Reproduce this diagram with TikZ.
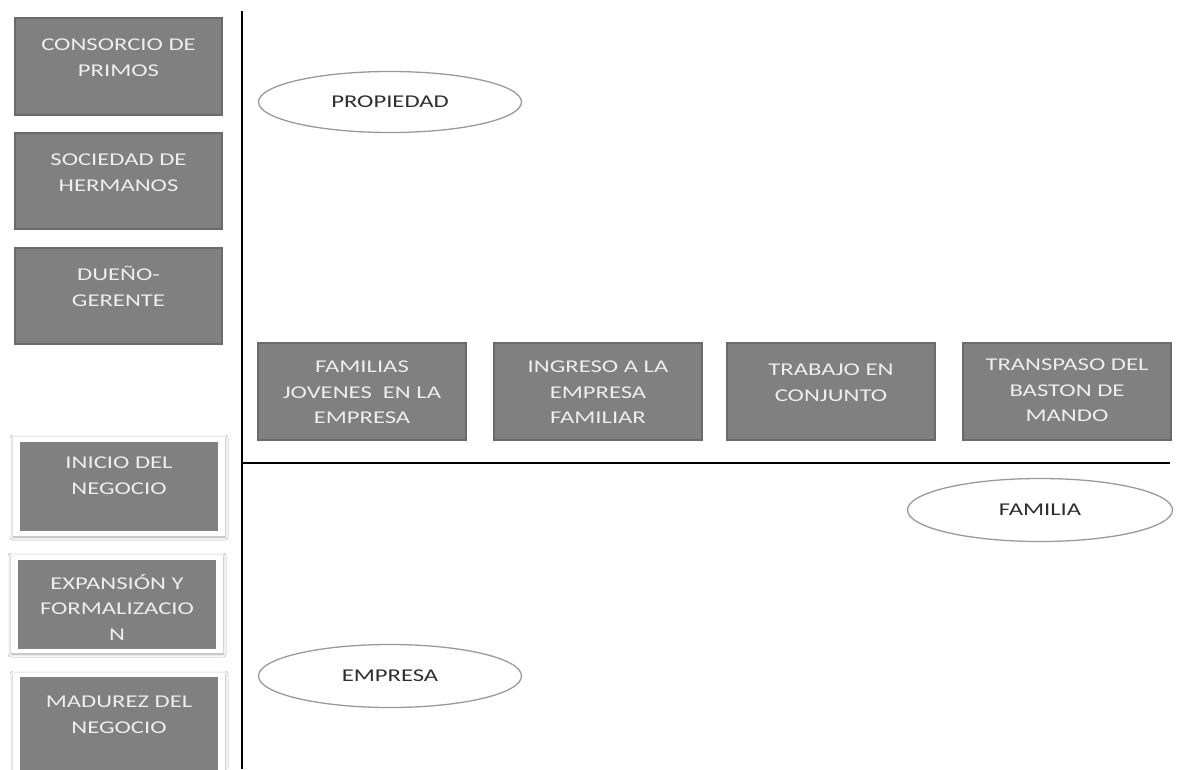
\documentclass[tikz,border=0pt]{standalone}
\usepackage{fontspec}
\newfontfamily\boxfont{Carlito}[FakeStretch=1.37]
\usetikzlibrary{shapes.geometric,shadows.blur}
\definecolor{boxgray}{HTML}{808080}
\definecolor{boxedge}{HTML}{6A6A6A}
\definecolor{boxtxt}{HTML}{EEEEEE}
\definecolor{elledge}{HTML}{9A9A9A}
\definecolor{elltxt}{HTML}{2E2E2E}
\begin{document}
\begin{tikzpicture}[x=1pt,y=-1pt,
  box/.style={draw=boxedge, line width=1.5pt, fill=boxgray, anchor=north west, inner sep=0pt, outer sep=0pt},
  flatbox/.style={fill=boxgray, anchor=north west, inner sep=0pt, outer sep=0pt},
  frame/.style={fill=white, anchor=north west, inner sep=0pt, outer sep=0pt,
    blur shadow={shadow xshift=0pt, shadow yshift=-1pt, shadow blur radius=3pt, shadow opacity=35}},
  sz/.style 2 args={minimum width=#1pt, minimum height=#2pt},
  btext/.style={anchor=north, inner sep=0pt, align=center, text=boxtxt,
    font=\boxfont\fontsize{18}{25.5}\selectfont},
  ell/.style={ellipse, draw=elledge, line width=1.3pt, fill=white, inner sep=0pt,
    text=elltxt, font=\boxfont\fontsize{18}{22}\selectfont},
  axis/.style={line width=2.8pt, black}]
\useasboundingbox[fill=white] (0,0) rectangle (1178,769);

% axes
\coordinate (vtop) at (242,11);
\coordinate (vbot) at (242,769);
\coordinate (hl) at (242,463);
\coordinate (hr) at (1170,463);
\draw[axis] (vtop) -- (vbot);
\draw[axis] (hl) -- (hr);

% upper left boxes
\node[box, sz={207}{97}] (cons) at (15,18) {};
\node[btext] (tcons) at (118.5,39) {CONSORCIO DE\\PRIMOS};
\node[box, sz={207}{96}] (soc) at (15,133) {};
\node[btext] (tsoc) at (118.5,154) {SOCIEDAD DE\\HERMANOS};
\node[box, sz={207}{96}] (due) at (15,248) {};
\node[btext] (tdue) at (118.5,266) {DUEÑO-\\GERENTE};

% lower left boxes with white frame
\node[frame, sz={212}{99}] (fini) at (13,437) {};
\node[flatbox, sz={198}{89}] (ini) at (20,442) {};
\node[btext] (tini) at (119,457) {INICIO DEL\\NEGOCIO};
\node[frame, sz={212}{98}] (fexp) at (11,555) {};
\node[flatbox, sz={198}{89}] (exp) at (18,560) {};
\node[btext] (texp) at (117,574) {EXPANSIÓN Y\\FORMALIZACIO\\N};
\node[frame, sz={212}{110}] (fmad) at (13,673) {};
\node[flatbox, sz={198}{100}] (mad) at (20,677) {};
\node[btext] (tmad) at (119,696) {MADUREZ DEL\\NEGOCIO};

% middle row boxes
\node[box, sz={208}{97}] (fam) at (258,343) {};
\node[btext] (tfam) at (362,361) {FAMILIAS\\JOVENES\ \ EN LA\\EMPRESA};
\node[box, sz={208}{97}] (ing) at (494,343) {};
\node[btext] (ting) at (598,361) {INGRESO A LA\\EMPRESA\\FAMILIAR};
\node[box, sz={208}{97}] (tra) at (727,343) {};
\node[btext] (ttra) at (831,364) {TRABAJO EN\\CONJUNTO};
\node[box, sz={208}{97}] (trp) at (963,343) {};
\node[btext] (ttrp) at (1067,359) {TRANSPASO DEL\\BASTON DE\\MANDO};

% ellipses
\node[ell, minimum width=263pt, minimum height=61pt] (prop) at (390,102) {PROPIEDAD};
\node[ell, minimum width=265pt, minimum height=63pt] (fami) at (1040,510) {FAMILIA};
\node[ell, minimum width=263pt, minimum height=63pt] (emp) at (390,676) {EMPRESA};
\end{tikzpicture}
\end{document}
